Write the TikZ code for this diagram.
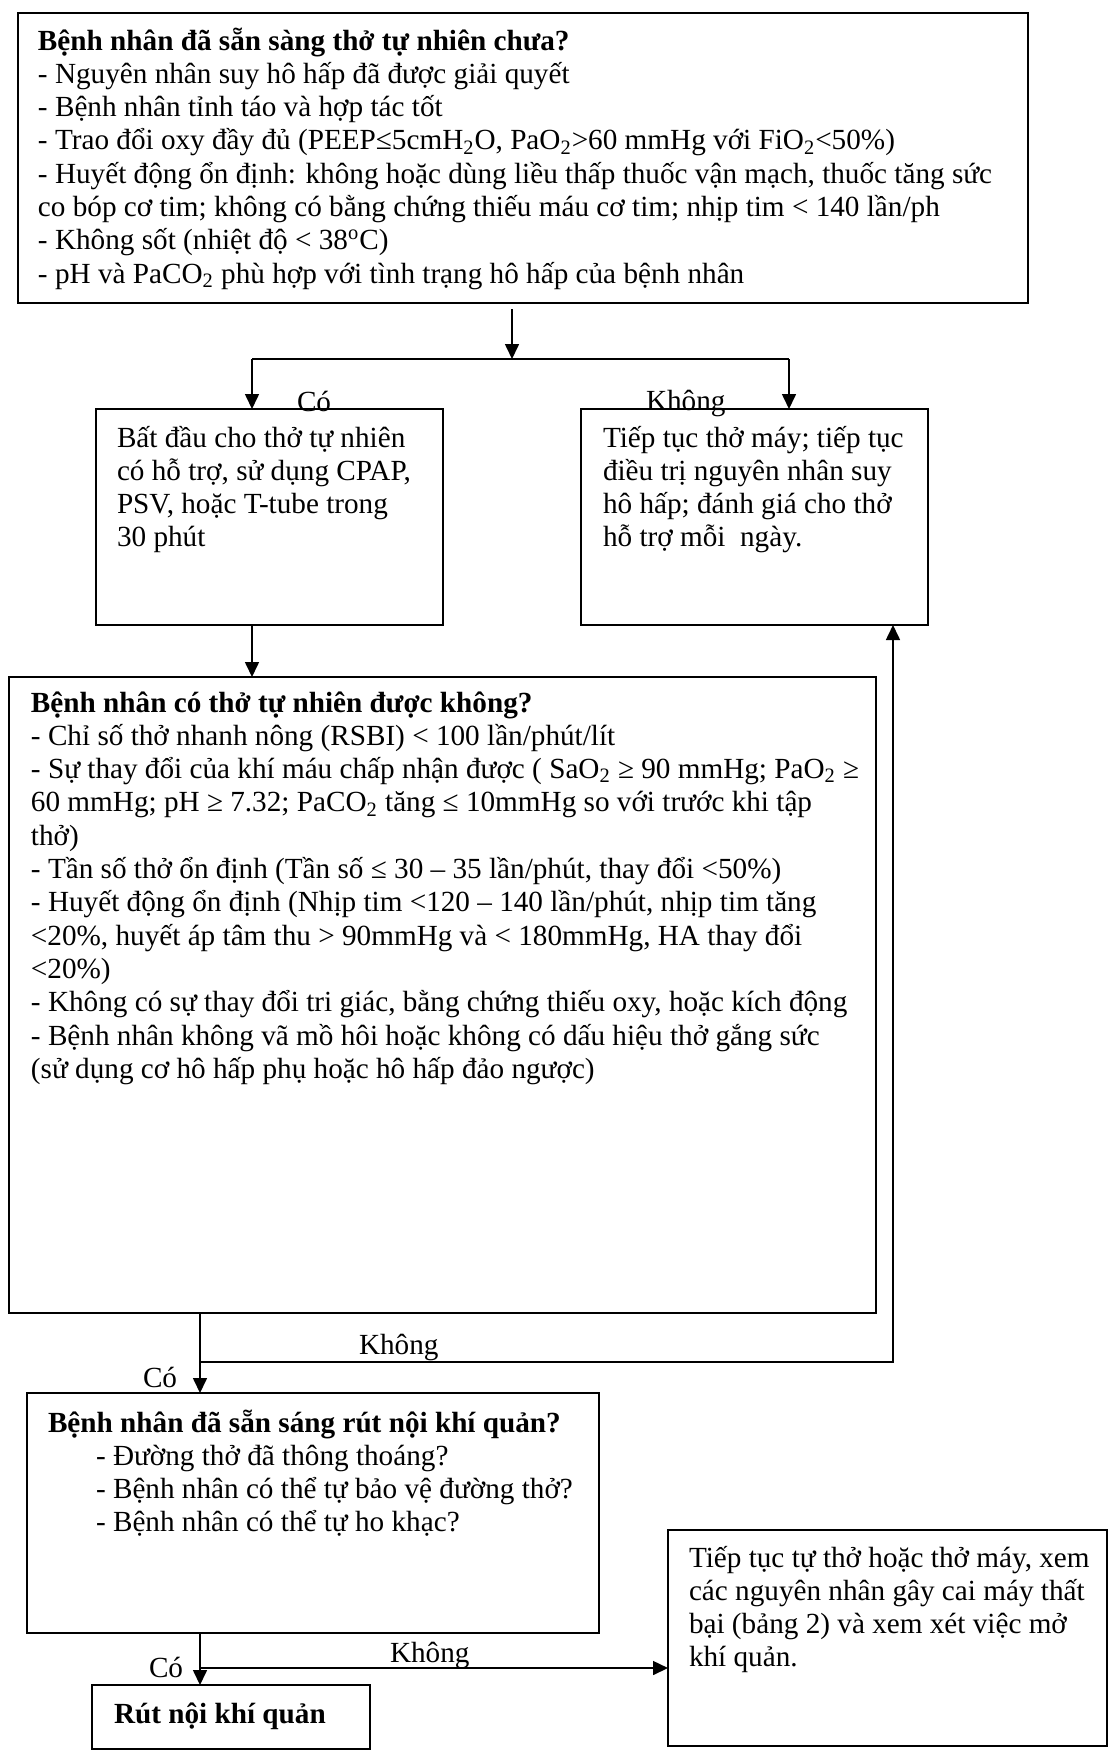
\documentclass[tikz,border=0pt]{standalone}
\usepackage{fontspec}
\setmainfont{Liberation Serif}
\usetikzlibrary{arrows.meta}
% stacked lines whose first baseline is the node's base
\newcommand{\boxlines}[1]{\begin{tabular}[t]{@{}l@{}}#1\end{tabular}}
\begin{document}
\begin{tikzpicture}[x=0.5pt,y=-0.5pt,
  flowbox/.style={draw, line width=0.8pt, inner sep=0pt, outer sep=0pt},
  txt/.style={anchor=base west, inner sep=0pt, outer sep=0pt,
              font=\fontsize{14.6pt}{16.65pt}\selectfont},
  wire/.style={line width=0.8pt},
  arr/.style={line width=0.8pt, -{Triangle[length=7.5pt,width=7pt]}}]
\useasboundingbox (0,0) rectangle (1109,1751);

% ---- boxes ----
\node[flowbox, minimum width=505pt,   minimum height=145pt] (top)   at (523,158)    {};
\node[flowbox, minimum width=173.5pt, minimum height=108pt] (yes1)  at (269.5,517)  {};
\node[flowbox, minimum width=173.5pt, minimum height=108pt] (no1)   at (754.5,517)  {};
\node[flowbox, minimum width=433.5pt, minimum height=318pt] (q2)    at (442.5,995)  {};
\node[flowbox, minimum width=286pt,   minimum height=120pt] (q3)    at (313,1513)   {};
\node[flowbox, minimum width=219.5pt, minimum height=108pt] (fail)  at (887.5,1638) {};
\node[flowbox, minimum width=139pt,   minimum height=32pt]  (extub) at (231,1717)   {};

% ---- box texts ----
\node[txt] (topText) at (38,50) {\boxlines{%
\textbf{Bệnh nhân đã sẵn sàng thở tự nhiên chưa?}\\
- Nguyên nhân suy hô hấp đã được giải quyết\\
- Bệnh nhân tỉnh táo và hợp tác tốt\\
- Trao đổi oxy đầy đủ (PEEP≤5cmH\textsubscript{2}O, PaO\textsubscript{2}>60 mmHg với FiO\textsubscript{2}<50\%)\\
- Huyết động ổn định: không hoặc dùng liều thấp thuốc vận mạch, thuốc tăng sức\\
co bóp cơ tim; không có bằng chứng thiếu máu cơ tim; nhịp tim < 140 lần/ph\\
- Không sốt (nhiệt độ < 38\textsuperscript{o}C)\\
- pH và PaCO\textsubscript{2} phù hợp với tình trạng hô hấp của bệnh nhân}};

\node[txt] (yesText) at (117,447) {\boxlines{%
Bất đầu cho thở tự nhiên\\
có hỗ trợ, sử dụng CPAP,\\
PSV, hoặc T-tube trong\\
30 phút}};

\node[txt] (noText) at (603,447) {\boxlines{%
Tiếp tục thở máy; tiếp tục\\
điều trị nguyên nhân suy\\
hô hấp; đánh giá cho thở\\
hỗ trợ mỗi\ \ ngày.}};

\node[txt] (q2Text) at (31,712) {\boxlines{%
\textbf{Bệnh nhân có thở tự nhiên được không?}\\
- Chỉ số thở nhanh nông (RSBI) < 100 lần/phút/lít\\
- Sự thay đổi của khí máu chấp nhận được ( SaO\textsubscript{2} ≥ 90 mmHg; PaO\textsubscript{2} ≥\\
60 mmHg; pH ≥ 7.32; PaCO\textsubscript{2} tăng ≤ 10mmHg so với trước khi tập\\
thở)\\
- Tần số thở ổn định (Tần số ≤ 30 – 35 lần/phút, thay đổi <50\%)\\
- Huyết động ổn định (Nhịp tim <120 – 140 lần/phút, nhịp tim tăng\\
<20\%, huyết áp tâm thu > 90mmHg và < 180mmHg, HA thay đổi\\
<20\%)\\
- Không có sự thay đổi tri giác, bằng chứng thiếu oxy, hoặc kích động\\
- Bệnh nhân không vã mồ hôi hoặc không có dấu hiệu thở gắng sức\\
(sử dụng cơ hô hấp phụ hoặc hô hấp đảo ngược)}};

\node[txt] (q3Title) at (48,1432) {\textbf{Bệnh nhân đã sẵn sáng rút nội khí quản?}};
\node[txt] (q3Text) at (96,1465) {\boxlines{%
- Đường thở đã thông thoáng?\\
- Bệnh nhân có thể tự bảo vệ đường thở?\\
- Bệnh nhân có thể tự ho khạc?}};

\node[txt] (failText) at (689,1567) {\boxlines{%
Tiếp tục tự thở hoặc thở máy, xem\\
các nguyên nhân gây cai máy thất\\
bại (bảng 2) và xem xét việc mở\\
khí quản.}};

\node[txt] (extubText) at (114,1723) {\textbf{Rút nội khí quản}};

% ---- connectors ----
\coordinate (split) at (512,359);
\coordinate (lx) at (252,359);
\coordinate (rx) at (789,359);
\draw[arr] ([yshift=-3pt]top.south -| split) -- (split);
\draw[wire] (lx) -- (rx);
\draw[arr] (lx) -- (lx |- yes1.north);
\draw[arr] (rx) -- (rx |- no1.north);
\draw[arr] (lx |- yes1.south) -- (lx |- q2.north);

\coordinate (j2) at (200,1362);
\coordinate (ret) at (893,1362);
\draw[arr] (j2 |- q2.south) -- (j2 |- q3.north);
\draw[arr] (j2) -- (ret) -- (ret |- no1.south);

\coordinate (j3) at (200,1668);
\draw[arr] (j3 |- q3.south) -- (j3 |- extub.north);
\draw[arr] (j3) -- (j3 -| fail.west);

% ---- branch labels ----
\node[txt] (lblYes1) at (297,411)  {Có};
\node[txt] (lblNo1)  at (646,410)  {Không};
\node[txt] (lblNo2)  at (359,1354) {Không};
\node[txt] (lblYes2) at (143,1387) {Có};
\node[txt] (lblNo3)  at (390,1662) {Không};
\node[txt] (lblYes3) at (149,1677) {Có};
\end{tikzpicture}
\end{document}
